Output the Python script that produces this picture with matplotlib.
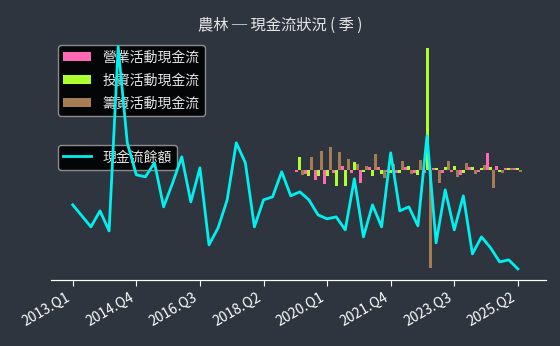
import numpy as np
import matplotlib
matplotlib.use("Agg")
import matplotlib.pyplot as plt

plt.rcParams['font.family'] = ['Noto Sans CJK TC', 'DejaVu Sans']

# quarters 2013.Q1 .. 2025.Q2
quarters = [f"{2013 + i // 4}.Q{i % 4 + 1}" for i in range(50)]

# 現金流餘額 (line, arbitrary units)
balance = [7.5, 6.4, 5.3, 6.9, 4.9, 23.3, 13.7, 10.5, 10.3, 11.7,
           7.3, 9.7, 12.3, 7.8, 11.2, 3.5, 5.2, 8.0, 13.7, 11.7,
           5.3, 8.0, 8.3, 10.8, 8.4, 8.8, 8.0, 6.5, 6.1, 6.3,
           5.0, 10.1, 4.3, 7.5, 5.3, 12.7, 6.9, 7.3, 5.4, 14.4,
           3.7, 9.0, 5.0, 8.4, 2.6, 4.3, 3.2, 1.8, 2.0, 1.1]

# bars only for 2019.Q2 .. 2025.Q2
bar_start = 25
operating = [-0.2, -0.4, -1.0, -1.4, -0.3, 0.4, -0.3, -1.3, 0.3, 0.3,
             -0.2, -0.3, 0.3, -0.3, -0.3, 0.2, -0.3, -0.2, -0.5, 0.3,
             -0.2, 1.7, 0.4, 0.2, 0.2]
investing = [1.3, -0.6, -0.6, -0.6, -1.6, -1.6, 0.8, -0.2, -0.6, -0.4,
             -0.3, -0.3, 0.4, -0.5, 12.2, 0.2, 0.3, 0.4, -0.3, 0.3,
             0.2, 0.3, -0.2, 0.2, 0.2]
financing = [-0.5, 1.3, 1.9, 2.3, 1.8, 1.1, 0.6, 0.4, 1.6, -0.8,
             0.6, 0.9, -0.4, 1.0, -9.8, -1.3, 0.9, -0.7, 0.7, -0.4,
             0.5, -1.8, -0.3, 0.2, -0.2]

bg = '#2e353f'
fig = plt.figure(figsize=(5.6, 3.46), dpi=100, facecolor=bg)
ax = fig.add_axes([0.091, 0.191, 0.884, 0.70])
ax.set_facecolor(bg)
ax2 = ax.twinx()

xb = np.arange(bar_start, bar_start + len(operating))
w = 0.33
ax.bar(xb - w, operating, w, color='#ff69b4', label='營業活動現金流')
ax.bar(xb, investing, w, color='#adff2f', label='投資活動現金流')
ax.bar(xb + w, financing, w, color='#a67c52', label='籌資活動現金流')
ax.set_ylim(-11.0, 13.2)

x = np.arange(len(balance))
line, = ax2.plot(x, balance, color='#00f0f0', lw=2, label='現金流餘額')
ax2.set_ylim(0, 24.2)

ax.set_xlim(-2.4, 52.1)
ticks = list(range(0, 50, 7))
ax.set_xticks(ticks)
ax.set_xticklabels([quarters[i] for i in ticks], rotation=30, ha='right',
                   color='#e6e6e6', fontsize=10)
ax.tick_params(axis='x', colors='white', length=4)
ax.set_yticks([])
ax2.set_yticks([])
for a in (ax, ax2):
    for s in ('top', 'left', 'right'):
        a.spines[s].set_visible(False)
    a.spines['bottom'].set_color('white')

leg1 = ax.legend(loc='upper left', bbox_to_anchor=(0.014, 0.971), borderaxespad=0,
                 fontsize=10, facecolor='black', edgecolor='#999999',
                 labelcolor='#e6e6e6', framealpha=0.9, labelspacing=0.65)
ax.add_artist(leg1)
leg2 = ax.legend(handles=[line], loc='upper left', bbox_to_anchor=(0.014, 0.558),
                 borderaxespad=0, fontsize=10, facecolor='black',
                 edgecolor='#999999', labelcolor='#e6e6e6', framealpha=0.9)

fig.suptitle('農林 ─ 現金流狀況 ( 季 )', color='#e6e6e6', fontsize=11, y=0.95)

fig.savefig('out.png', dpi=100, facecolor=bg)
